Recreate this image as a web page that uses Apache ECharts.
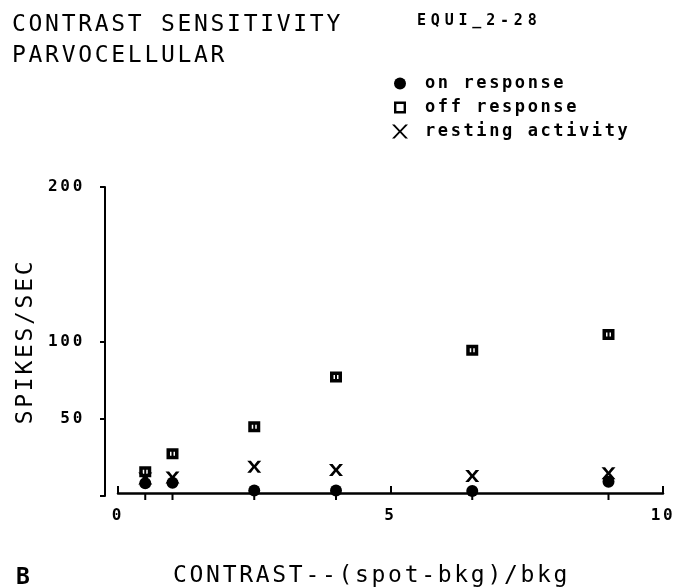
<!DOCTYPE html>
<html>
<head>
<meta charset="utf-8">
<style>
  html, body { margin: 0; padding: 0; background: #fff; }
  #chart { width: 678px; height: 588px; }
</style>
<script src="https://cdn.jsdelivr.net/npm/echarts@6/dist/echarts.min.js"></script>
</head>
<body>
<div id="chart"></div>
<script>
// Contrast levels (spot-bkg)/bkg tested
const contrastLevels = [0.5, 1, 2.5, 4, 6.5, 9];
// Firing rates, spikes/sec
const onResponse = [8.2, 8.5, 3.5, 3.5, 3.2, 9.2];
const offResponse = [15.7, 27.3, 44.8, 77.1, 94.4, 104.5];
const restingActivity = [11.4, 12, 19, 16.8, 12.9, 14.7];
// Axis ticks
const yTickValues = [0, 50, 100, 200];
const yLabelValues = [50, 100, 200];

const MONO = "'DejaVu Sans Mono', 'Liberation Mono', monospace";

// Plotter-style lettering is wider than the mono font; add tracking per font size.
const tracking = { 23: '2.7px', 17: '2.6px', 16: '2.7px', 15: '4.8px' };
const nativeFillText = CanvasRenderingContext2D.prototype.fillText;
CanvasRenderingContext2D.prototype.fillText = function (text, x, y, maxWidth) {
  const m = /([\d.]+)px/.exec(this.font || '');
  const sp = m ? tracking[Math.round(parseFloat(m[1]))] : null;
  if (sp && 'letterSpacing' in this) {
    const prev = this.letterSpacing;
    this.letterSpacing = sp;
    const r = maxWidth === undefined ? nativeFillText.call(this, text, x, y)
                                     : nativeFillText.call(this, text, x, y, maxWidth);
    this.letterSpacing = prev;
    return r;
  }
  return maxWidth === undefined ? nativeFillText.call(this, text, x, y)
                                 : nativeFillText.call(this, text, x, y, maxWidth);
};

const pairs = vals => contrastLevels.map((c, i) => [c, vals[i]]);

// Marker shapes
const offMarker = 'path://M0,0H12V11H0Z M3.5,3.5V7.5H5V3.5Z M7,3.5V7.5H8.5V3.5Z';
const restMarker = 'path://M0,0L3.6,0L7,4.3L10.4,0L14,0L8.9,6L14,12L10.4,12L7,7.7L3.6,12L0,12L5.1,6Z';
const offLegendIcon = 'path://M0,0H12V12H0Z M2.4,2.4V9.6H9.6V2.4Z';
const restLegendIcon = 'path://M0,0L2.6,0L8,5.7L13.4,0L16,0L9.3,7L16,14L13.4,14L8,8.3L2.6,14L0,14L6.7,7Z';

const titleStyle = { fontFamily: MONO, fontSize: 23, fontWeight: 'normal', color: '#000' };
const legendText = { fontFamily: MONO, fontSize: 17, fontWeight: 'bold', color: '#000' };
const tickFont = { fontFamily: MONO, fontSize: 16, fontWeight: 'bold', color: '#000' };

const baselineLift = 3; // x axis line sits just above the zero tick

const chart = echarts.init(document.getElementById('chart'), null, { renderer: 'canvas' });

chart.setOption({
  animation: false,
  backgroundColor: '#fff',
  title: [
    { text: 'CONTRAST SENSITIVITY', left: 12, top: 14, padding: 0, textStyle: titleStyle },
    { text: 'PARVOCELLULAR', left: 12, top: 45, padding: 0, textStyle: titleStyle },
    { text: 'EQUI_2-28', left: 417, top: 14, padding: 0,
      textStyle: { fontFamily: MONO, fontSize: 15, fontWeight: 'bold', color: '#000' } },
    { text: 'B', left: 16, top: 567, padding: 0,
      textStyle: { fontFamily: MONO, fontSize: 23, fontWeight: 'bold', color: '#000' } },
    // x axis caption
    { text: 'CONTRAST--(spot-bkg)/bkg', left: 173, top: 565, padding: 0, textStyle: titleStyle }
  ],
  legend: [
    { data: [{ name: 'on response', icon: 'circle' }], left: 394, top: 75, padding: 0,
      itemWidth: 12, itemHeight: 12, selectedMode: false,
      textStyle: Object.assign({ padding: [0, 0, 0, 14] }, legendText) },
    { data: [{ name: 'off response', icon: offLegendIcon }], left: 394, top: 99, padding: 0,
      itemWidth: 12, itemHeight: 12, selectedMode: false,
      textStyle: Object.assign({ padding: [0, 0, 0, 14] }, legendText) },
    { data: [{ name: 'resting activity', icon: restLegendIcon }], left: 392, top: 123, padding: 0,
      itemWidth: 16, itemHeight: 14, selectedMode: false,
      textStyle: Object.assign({ padding: [0, 0, 0, 12] }, legendText) }
  ],
  grid: { left: 118, right: 15, top: 187, bottom: 92 },
  xAxis: {
    type: 'value', min: 0, max: 10, interval: 5, offset: -baselineLift,
    axisLine: { show: true, onZero: false, lineStyle: { color: '#000', width: 2.5 } },
    axisTick: { show: true, inside: true, length: 7, lineStyle: { color: '#000', width: 2 } },
    axisLabel: Object.assign({ margin: 15 }, tickFont),
    splitLine: { show: false }
  },
  yAxis: {
    type: 'value', min: 0, max: 200, offset: 13,
    axisLine: { show: true, onZero: false, lineStyle: { color: '#000', width: 2 } },
    axisTick: { show: true, length: 5, customValues: yTickValues, lineStyle: { color: '#000', width: 2 } },
    axisLabel: Object.assign({ margin: 20, customValues: yLabelValues }, tickFont),
    splitLine: { show: false },
    name: 'SPIKES/SEC', nameLocation: 'middle', nameGap: 67,
    nameTextStyle: titleStyle
  },
  series: [
    {
      // downward tick under the baseline at each tested contrast
      type: 'custom', clip: false, silent: true, z: 1,
      data: contrastLevels.map(c => [c, 0]),
      encode: { x: 0, y: 1 },
      renderItem: function (params, api) {
        const p = api.coord([api.value(0), api.value(1)]);
        return {
          type: 'line',
          shape: { x1: p[0], y1: p[1] - baselineLift, x2: p[0], y2: p[1] + 4 },
          style: { stroke: '#000', lineWidth: 2 }
        };
      }
    },
    { name: 'on response', type: 'scatter', z: 2,
      symbol: 'circle', symbolSize: 12, itemStyle: { color: '#000', opacity: 1 },
      data: pairs(onResponse) },
    { name: 'off response', type: 'scatter', z: 2,
      symbol: offMarker, symbolSize: [12, 11], itemStyle: { color: '#000', opacity: 1 },
      data: pairs(offResponse) },
    { name: 'resting activity', type: 'scatter', z: 2,
      symbol: restMarker, symbolSize: [14, 12], itemStyle: { color: '#000', opacity: 1 },
      data: pairs(restingActivity) }
  ]
});
</script>
</body>
</html>
